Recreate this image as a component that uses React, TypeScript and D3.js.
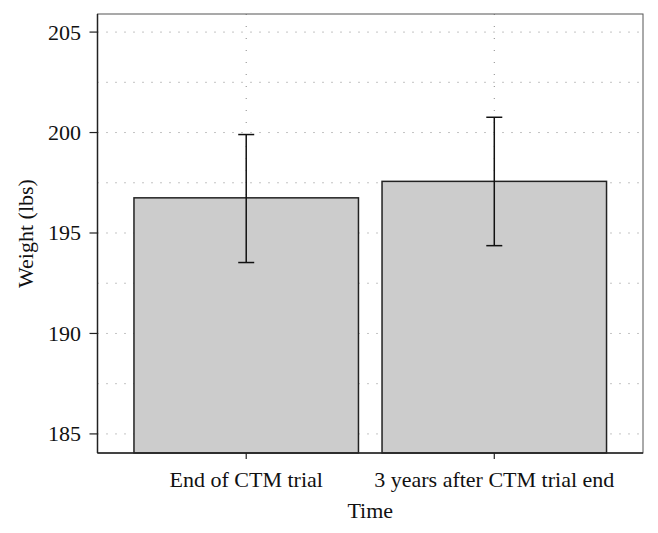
import React from "react";
import * as d3 from "d3";

const categories = ["End of CTM trial", "3 years after CTM trial end"];
const means = [196.75, 197.57];
const errLow = [193.53, 194.37];
const errHigh = [199.9, 200.76];
const yTicks = [185, 190, 195, 200, 205];
const yGrid = [185, 187.5, 190, 192.5, 195, 197.5, 200, 202.5, 205];

const W = 658;
const H = 533;
const left = 97.5;
const right = 643;
const top = 14;
const bottom = 453;
const FONT = "'Liberation Serif', 'DejaVu Serif', serif";
const FS = 22;

export default function App() {
  const x = d3
    .scaleBand<string>()
    .domain(categories)
    .range([left, right])
    .paddingInner(0.095)
    .paddingOuter(0.147);
  const y = d3.scaleLinear().domain([184.05, 205.9]).range([bottom, top]);
  const bw = x.bandwidth();
  const cap = 8;

  return (
    <svg
      width={W}
      height={H}
      style={{ position: "absolute", left: 0, top: 0, background: "#fff" }}
    >
      {/* horizontal dotted grid */}
      {yGrid.map((v) => (
        <line
          key={"h" + v}
          x1={left}
          x2={right}
          y1={y(v)}
          y2={y(v)}
          stroke="#888"
          strokeWidth={1}
          strokeDasharray="1,8"
        />
      ))}
      {/* vertical dotted grid */}
      {categories.map((c) => (
        <line
          key={"v" + c}
          x1={x(c)! + bw / 2}
          x2={x(c)! + bw / 2}
          y1={top}
          y2={bottom}
          stroke="#888"
          strokeWidth={1}
          strokeDasharray="1,11"
        />
      ))}
      {/* bars */}
      {categories.map((c, i) => (
        <rect
          key={"b" + c}
          x={x(c)!}
          y={y(means[i])}
          width={bw}
          height={bottom - y(means[i])}
          fill="#cccccc"
          stroke="#222"
          strokeWidth={1.5}
        />
      ))}
      {/* error bars */}
      {categories.map((c, i) => {
        const cx = x(c)! + bw / 2;
        return (
          <g key={"e" + c} stroke="#111" strokeWidth={1.5}>
            <line x1={cx} x2={cx} y1={y(errHigh[i])} y2={y(errLow[i])} />
            <line x1={cx - cap} x2={cx + cap} y1={y(errHigh[i])} y2={y(errHigh[i])} />
            <line x1={cx - cap} x2={cx + cap} y1={y(errLow[i])} y2={y(errLow[i])} />
          </g>
        );
      })}
      {/* frame */}
      <rect
        x={left}
        y={top}
        width={right - left}
        height={bottom - top}
        fill="none"
        stroke="#555"
        strokeWidth={1}
      />
      <line x1={left} x2={left} y1={top} y2={bottom} stroke="#222" strokeWidth={1.5} />
      <line x1={left} x2={right} y1={bottom} y2={bottom} stroke="#222" strokeWidth={1.5} />
      {/* y ticks */}
      {yTicks.map((v) => (
        <g key={"yt" + v}>
          <line x1={left - 8} x2={left} y1={y(v)} y2={y(v)} stroke="#222" strokeWidth={1.2} />
          <text
            x={81}
            y={y(v) + 7.5}
            textAnchor="end"
            fontFamily={FONT}
            fontSize={FS}
            fill="#111"
          >
            {v}
          </text>
        </g>
      ))}
      {/* x ticks */}
      {categories.map((c) => {
        const cx = x(c)! + bw / 2;
        return (
          <g key={"xt" + c}>
            <line x1={cx} x2={cx} y1={bottom} y2={bottom + 6} stroke="#222" strokeWidth={1.2} />
            <text
              x={cx}
              y={487}
              textAnchor="middle"
              fontFamily={FONT}
              fontSize={FS}
              fill="#111"
            >
              {c}
            </text>
          </g>
        );
      })}
      <text
        x={(left + right) / 2}
        y={518}
        textAnchor="middle"
        fontFamily={FONT}
        fontSize={FS}
        fill="#111"
      >
        Time
      </text>
      <text
        transform={`translate(${33},${(top + bottom) / 2}) rotate(-90)`}
        textAnchor="middle"
        fontFamily={FONT}
        fontSize={FS}
        fill="#111"
      >
        Weight (lbs)
      </text>
    </svg>
  );
}
